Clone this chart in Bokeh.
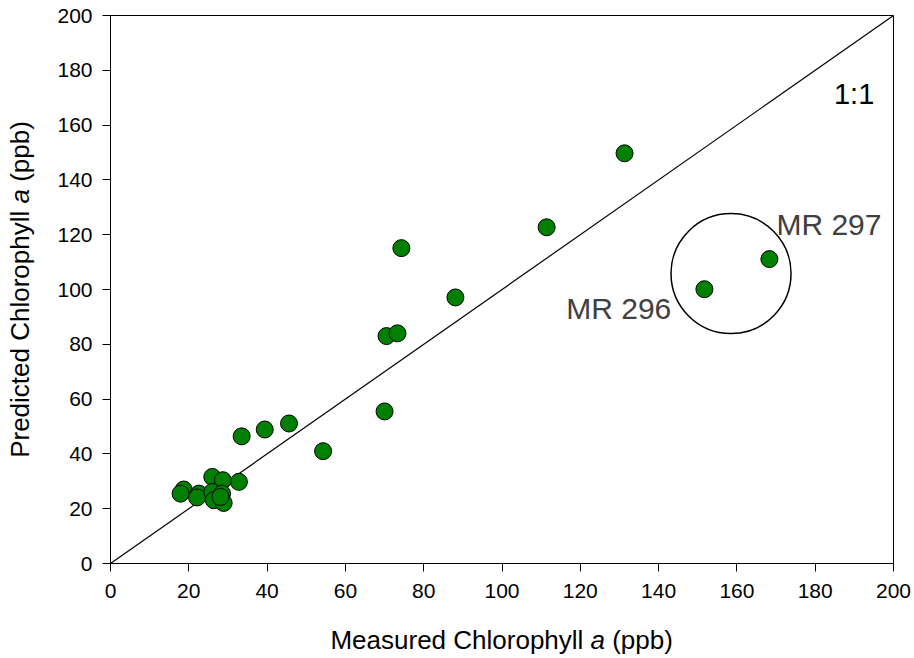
import math
from bokeh.plotting import figure
from bokeh.models import Label, FixedTicker, Range1d
from bokeh.layouts import row, column
from bokeh.embed import file_html
from bokeh.resources import INLINE

# ---- data ----
measured = [131.3, 111.4, 74.3, 88.1, 70.5, 73.3, 70.0, 54.3, 45.6, 39.4, 33.5,
            32.8, 26.0, 28.7, 18.7, 17.9, 22.6, 22.1, 26.0, 28.5, 26.4, 28.9, 28.1,
            151.7, 168.3]
predicted = [149.7, 122.7, 115.1, 97.1, 83.0, 84.0, 55.5, 41.0, 51.1, 48.9, 46.4,
             29.8, 31.6, 30.4, 27.0, 25.5, 25.5, 24.1, 26.1, 25.5, 23.1, 22.1, 24.3,
             100.1, 111.1]
line_x = [0, 200]
line_y = [0, 200]
ticks = [0, 20, 40, 60, 80, 100, 120, 140, 160, 180, 200]
circle_x = [158.5]
circle_y = [105.8]
annot_text = ["MR 297", "MR 296"]
annot_x = [170.1, 116.4]
annot_y = [119.8, 89.0]
one_one_text = "1:1"
one_one_x = 184.8
one_one_y = 167.5
x_title = ["Measured Chlorophyll", "a", "(ppb)"]
y_title = ["Predicted Chlorophyll", "a", "(ppb)"]

FONT = "Liberation Sans"
TITLE_FS = 26
BASE_FIX = 11  # baseline correction (px)
X_SHIFT = -18  # horizontal correction for x title strip (px)

YLAB_W = 50
XLAB_H = 50
W, H = 914, 658

# ---- main plot ----
p = figure(width=W - YLAB_W, height=H - XLAB_H, output_backend="svg",
           toolbar_location=None,
           x_range=Range1d(0, 200), y_range=Range1d(0, 200),
           min_border_left=60, min_border_right=21, min_border_top=15,
           min_border_bottom=45)
p.background_fill_color = "white"
p.border_fill_color = "white"
p.outline_line_color = "black"
p.outline_line_width = 1
p.xgrid.visible = False
p.ygrid.visible = False

for ax in (p.xaxis[0], p.yaxis[0]):
    ax.ticker = FixedTicker(ticks=ticks)
    ax.major_tick_out = 8
    ax.major_tick_in = 0
    ax.minor_tick_out = 0
    ax.minor_tick_in = 0
    ax.major_tick_line_color = "black"
    ax.axis_line_color = "black"
    ax.major_label_text_font = FONT
    ax.major_label_text_font_size = "21px"
    ax.major_label_text_color = "black"
    ax.axis_label = None
p.xaxis[0].major_label_standoff = 12
p.yaxis[0].major_label_standoff = 10

# 1:1 line
p.line(line_x, line_y, line_color="black", line_width=1.2)

# points
p.scatter(measured, predicted, size=17, fill_color="#008000",
          line_color="black", line_width=1)

# highlight circle
p.scatter(circle_x, circle_y, size=120, fill_color=None,
          line_color="black", line_width=1.5)

for t, x, y in zip(annot_text, annot_x, annot_y):
    p.add_layout(Label(x=x, y=y, y_offset=BASE_FIX, text=t, text_font=FONT,
                       text_font_size="30px",
                       text_color="#404040", text_align="left",
                       text_baseline="alphabetic"))

p.add_layout(Label(x=one_one_x, y=one_one_y, y_offset=BASE_FIX, text=one_one_text,
                   text_font=FONT,
                   text_font_size="29px", text_color="black", text_align="left",
                   text_baseline="alphabetic"))


def blank(width, height, xr, yr):
    f = figure(width=width, height=height, output_backend="svg",
               toolbar_location=None, x_range=Range1d(*xr), y_range=Range1d(*yr),
               x_axis_location=None, y_axis_location=None,
               min_border=0, min_border_left=0, min_border_right=0,
               min_border_top=0, min_border_bottom=0)
    f.grid.visible = False
    f.outline_line_color = None
    f.background_fill_color = "white"
    f.border_fill_color = "white"
    return f


# em widths (Liberation Sans / Arial metrics)
SPACE = 0.278 * TITLE_FS
A_W = 0.556 * TITLE_FS
X_T1 = 9.725 * TITLE_FS
X_TOT = 13.171 * TITLE_FS
Y_T1 = 9.503 * TITLE_FS
Y_TOT = 12.949 * TITLE_FS

styles = ["normal", "italic", "normal"]

# ---- x title strip ----
xf = blank(W - YLAB_W, XLAB_H, (0, W - YLAB_W), (0, XLAB_H))
x_center = 60 + 783 / 2
x_offs = [-X_TOT / 2, -X_TOT / 2 + X_T1 + SPACE, -X_TOT / 2 + X_T1 + 2 * SPACE + A_W]
for t, st, off in zip(x_title, styles, x_offs):
    xf.add_layout(Label(x=x_center, y=XLAB_H - 42, x_offset=off + X_SHIFT,
                        y_offset=BASE_FIX, text=t,
                        text_font=FONT, text_font_size=f"{TITLE_FS}px",
                        text_font_style=st, text_color="black",
                        text_align="left", text_baseline="alphabetic"))

# ---- y title strip ----
yf = blank(YLAB_W, H, (0, YLAB_W), (0, H))
y_center = H - (15 + 548 / 2)
y_offs = [-Y_TOT / 2, -Y_TOT / 2 + Y_T1 + SPACE, -Y_TOT / 2 + Y_T1 + 2 * SPACE + A_W]
for t, st, off in zip(y_title, styles, y_offs):
    yf.add_layout(Label(x=30 - BASE_FIX, y=y_center + off, text=t, angle=math.pi / 2,
                        text_font=FONT, text_font_size=f"{TITLE_FS}px",
                        text_font_style=st, text_color="black",
                        text_align="left", text_baseline="alphabetic"))

layout = row(yf, column(p, xf, spacing=0), spacing=0)
open("out.html", "w").write(file_html(layout, INLINE))
